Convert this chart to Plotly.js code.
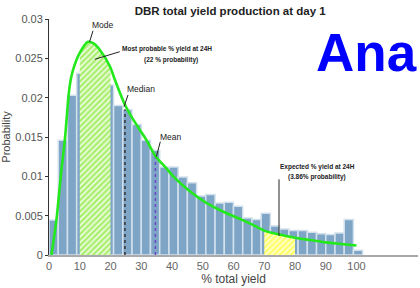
<!DOCTYPE html>
<html><head><meta charset="utf-8">
<script src="https://cdn.plot.ly/plotly-3.0.1.min.js"></script>
<style>html,body{margin:0;padding:0;background:#fff}#chart{width:420px;height:288px}</style>
</head><body><div id="chart"></div>
<script>
// ---- data ----
const binCenters = [1.5,4.5,7.5,10.5,13.5,16.5,19.5,22.5,25.5,28.5,31.5,34.5,37.5,40.5,43.5,46.5,49.5,52.5,55.5,58.5,61.5,64.5,67.5,70.5,73.5,76.5,79.5,82.5,85.5,88.5,91.5,94.5,97.5,100.5];
const binProbability = [0.00445,0.0146,0.0203,0.0231,0.0245,0.0235,0.0216,0.0190,0.01845,0.0166,0.0146,0.0133,0.0112,0.0112,0.0099,0.0092,0.0075,0.0077,0.0066,0.0067,0.0062,0.0047,0.0045,0.0053,0.0037,0.0033,0.0031,0.0031,0.0029,0.0027,0.0026,0.0028,0.0045,0.0006];
const fitYield = [0.8,2.4,4.0,5.1,6.7,7.8,10,12.7,14.5,16.5,19.8,21.4,24.7,27.4,31.7,34.6,38.2,40.4,45.8,51.3,56.7,62,66,70,75,80,85,90,95,100];
const fitProbability = [0,0.0044,0.0107,0.0144,0.0214,0.0235,0.0257,0.0271,0.0269,0.0261,0.0240,0.0223,0.0191,0.0172,0.0146,0.0126,0.0110,0.0100,0.0081,0.0066,0.0055,0.0046,0.0039,0.0031,0.0026,0.0022,0.0019,0.0016,0.0014,0.0012];
const modeRange = [10, 20];
const expectedRange = [70, 80];
const medianYield = 24.7;
const meanYield = 34.6;
const xTickVals = [0,10,20,30,40,50,60,70,80,90,100];
const yTickVals = [0,0.005,0.01,0.015,0.02,0.025,0.03];
const yTickText = ['0','0.005','0.01','0.015','0.02','0.025','0.03'];

function fitAt(x){
  for(let i=0;i<fitYield.length-1;i++){
    if(x>=fitYield[i] && x<=fitYield[i+1]){
      const t=(x-fitYield[i])/(fitYield[i+1]-fitYield[i]);
      return fitProbability[i]+t*(fitProbability[i+1]-fitProbability[i]);
    }
  }
  return 0;
}
function areaUnder(r){
  const xs=[r[0],r[0]], ys=[0,fitAt(r[0])];
  fitYield.forEach((x,i)=>{ if(x>r[0]&&x<r[1]){xs.push(x);ys.push(fitProbability[i]);} });
  xs.push(r[1],r[1]); ys.push(fitAt(r[1]),0);
  return {xs,ys};
}
const modeArea = areaUnder(modeRange);
const expArea = areaUnder(expectedRange);

const traces = [
  {type:'bar', x:binCenters, y:binProbability, width:3,
   marker:{color:'#7ea5c6', line:{color:'#d3e1ed', width:1.5}}, hoverinfo:'skip'},
  {type:'scatter', mode:'lines', x:modeArea.xs, y:modeArea.ys, fill:'toself',
   fillcolor:'#b6f283', line:{width:0},
   fillpattern:{shape:'/', bgcolor:'#a9ee6c', fgcolor:'#ecfde0', size:4, solidity:0.45}},
  {type:'scatter', mode:'lines', x:expArea.xs, y:expArea.ys, fill:'toself',
   fillcolor:'#ffff88', line:{width:0},
   fillpattern:{shape:'/', bgcolor:'#ffff66', fgcolor:'#ffffd0', size:4, solidity:0.45}},
  {type:'scatter', mode:'lines', x:[medianYield,medianYield], y:[0,fitAt(medianYield)-0.0006],
   line:{color:'#333', width:1.5, dash:'dot'}},
  {type:'scatter', mode:'lines', x:[meanYield,meanYield], y:[0,fitAt(meanYield)],
   line:{color:'#6b45c8', width:1.5, dash:'dot'}},
  {type:'scatter', mode:'lines', x:fitYield, y:fitProbability,
   line:{color:'#22e81c', width:2.6, shape:'spline', smoothing:0.8}}
];

const small = {family:'Liberation Sans, Arial, sans-serif', size:6.5, color:'#222', weight:'bold'};
const lbl = {family:'Liberation Sans, Arial, sans-serif', size:8.5, color:'#222'};
function ln(x0,y0,x1,y1){return {type:'line',xref:'x',yref:'y',x0,y0,x1,y1,line:{color:'#222',width:1}};}

const layout = {
  width:420, height:288,
  margin:{l:49, r:2, t:19, b:33},
  paper_bgcolor:'#fff', plot_bgcolor:'#fff',
  showlegend:false, bargap:0,
  font:{family:'Liberation Sans, Arial, sans-serif'},
  title:{text:'<b>DBR total yield production at day 1</b>', x:0.548, xanchor:'center', y:0.962, yanchor:'middle',
         font:{size:11.5, color:'#222'}},
  xaxis:{range:[0,120], showgrid:false, zeroline:false, showline:true, linecolor:'#aaa', linewidth:1.5,
         ticks:'', tickvals:xTickVals, tickfont:{size:11, color:'#666'},
         title:{text:'% total yield', font:{size:12, color:'#444'}, standoff:4}},
  yaxis:{range:[0,0.03], showgrid:false, zeroline:false, showline:true, linecolor:'#333', linewidth:1,
         ticks:'outside', ticklen:3, tickcolor:'#333', tickvals:yTickVals, ticktext:yTickText,
         tickfont:{size:11, color:'#555'},
         title:{text:'Probability', font:{size:11, color:'#444'}, standoff:4}},
  shapes:[ln(14.3,0.0285,13.2,0.0271), ln(23.0,0.02584,14.9,0.02488), ln(25.7,0.02034,24.4,0.01885),
          ln(36.2,0.0144,34.9,0.0125), ln(74.8,0.00962,74.8,0.00242)],
  annotations:[
    {xref:'x',yref:'y',x:17.6,y:0.02924,text:'Mode',showarrow:false,font:lbl},
    {xref:'x',yref:'y',x:38.3,y:0.02615,text:'Most probable % yield at 24H',showarrow:false,font:small},
    {xref:'x',yref:'y',x:39.6,y:0.02483,text:'(22 % probability)',showarrow:false,font:small},
    {xref:'x',yref:'y',x:30.0,y:0.02106,text:'Median',showarrow:false,font:lbl},
    {xref:'x',yref:'y',x:39.6,y:0.01504,text:'Mean',showarrow:false,font:lbl},
    {xref:'x',yref:'y',x:87.4,y:0.01122,text:'Expected % yield at 24H',showarrow:false,font:small},
    {xref:'x',yref:'y',x:87.0,y:0.00995,text:'(3.86% probability)',showarrow:false,font:small},
    {xref:'paper',yref:'paper',x:1.003,xanchor:'right',y:0.86,yanchor:'middle',text:'<b>Ana</b>',showarrow:false,
     font:{family:'Liberation Sans, Arial, sans-serif', size:53, color:'#0000ff'}}
  ]
};
Plotly.newPlot('chart', traces, layout, {displayModeBar:false, staticPlot:true});
</script></body></html>
